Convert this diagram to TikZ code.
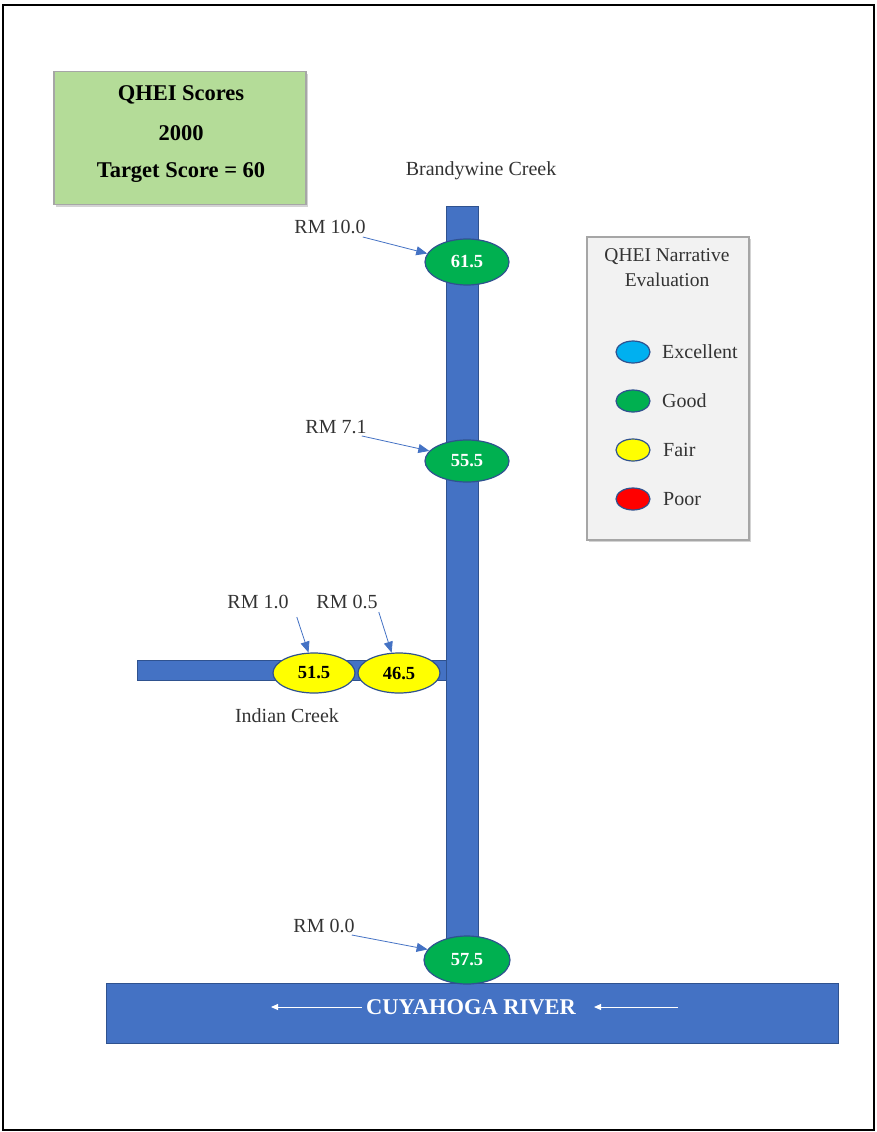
\documentclass[tikz,border=0pt]{standalone}
\usepackage{fontspec}
\setmainfont{Liberation Serif}
\usetikzlibrary{arrows.meta,shadows,shapes.geometric}
\definecolor{stream}{HTML}{4472C4}
\definecolor{edge}{HTML}{2F528F}
\definecolor{good}{HTML}{00B050}
\definecolor{excel}{HTML}{00B0F0}
\definecolor{fair}{HTML}{FFFF00}
\definecolor{poor}{HTML}{FF0000}
\definecolor{titlegreen}{HTML}{B4DC98}
\definecolor{legendgray}{HTML}{F2F2F2}
\tikzset{
  water/.style={fill=stream,draw=edge,line width=0.8pt},
  site/.style={ellipse,draw=edge,line width=1.2pt,minimum width=84pt,minimum height=46pt,inner sep=0pt,font=\fontsize{18.5}{20}\selectfont\bfseries},
  smallsite/.style={ellipse,draw=edge,line width=1.2pt,minimum width=82pt,minimum height=40pt,inner sep=0pt,font=\fontsize{18.5}{20}\selectfont\bfseries},
  key/.style={ellipse,draw=edge,line width=1.2pt,minimum width=34pt,minimum height=22pt,inner sep=0pt},
  lbl/.style={font=\fontsize{20}{22}\selectfont,text=black!80,inner sep=0pt},
  keytext/.style={font=\fontsize{20}{22}\selectfont,text=black!80,inner sep=0pt,anchor=west},
  titletext/.style={font=\fontsize{22.5}{24}\selectfont\bfseries},
  pointer/.style={draw=stream,line width=0.8pt,-{Triangle[length=11pt,width=9pt]}},
  flow/.style={draw=white,line width=1pt,-{Triangle[length=7pt,width=6pt]}}
}
\begin{document}
\begin{tikzpicture}[x=1pt,y=-1pt]
\useasboundingbox (0,0) rectangle (877,1132);
% outer frame
\draw[line width=1.5pt] (3,5) rectangle (874,1130);
% title box
\node[draw=gray!70,line width=1.2pt,fill=titlegreen,minimum width=252pt,minimum height=133pt,
  drop shadow={shadow xshift=2pt,shadow yshift=-2pt,opacity=0.35},inner sep=0pt] (title) at (180,138) {};
\node[titletext] (t1) at (181,95) {QHEI Scores};
\node[titletext] (t2) at (181,133) {2000};
\node[titletext] (t3) at (181,172) {Target Score = 60};
% legend box
\node[draw=gray!70,line width=1.2pt,fill=legendgray,minimum width=162pt,minimum height=303pt,
  drop shadow={shadow xshift=2pt,shadow yshift=-2pt,opacity=0.35},inner sep=0pt] (legend) at (668,388.5) {};
\node[lbl,align=center,font=\fontsize{19.5}{25}\selectfont] (lt) at (667,268) {QHEI Narrative\\Evaluation};
\node[key,fill=excel] (k1) at (633,352) {};
\node[key,fill=good] (k2) at (633,401) {};
\node[key,fill=fair] (k3) at (633,450) {};
\node[key,fill=poor] (k4) at (633,499) {};
\node[keytext] (l1) at (662,352) {Excellent};
\node[keytext] (l2) at (662,401) {Good};
\node[keytext] (l3) at (663,450) {Fair};
\node[keytext] (l4) at (663,499) {Poor};
% streams
\path[water] (446,206) rectangle (478,975);
\path[water] (137,660) rectangle (446,680);
\path[water] (106,983) rectangle (838,1043);
\node[font=\fontsize{22.5}{24}\selectfont\bfseries,text=white] (river) at (471,1007) {CUYAHOGA RIVER};
\coordinate (fa1) at (362,1007);
\coordinate (fa2) at (271,1007);
\coordinate (fb1) at (678,1007);
\coordinate (fb2) at (594,1007);
\draw[flow] (fa1) -- (fa2);
\draw[flow] (fb1) -- (fb2);
% creek labels
\node[lbl] (bc) at (481,171) {Brandywine Creek};
\node[lbl] (ic) at (287,716) {Indian Creek};
% sites
\node[site,fill=good,text=white] (s10) at (467,262) {61.5};
\node[site,fill=good,text=white,minimum height=42pt] (s71) at (467,461) {55.5};
\node[smallsite,fill=fair] (s10i) at (314,673) {51.5};
\node[smallsite,fill=fair] (s05i) at (399,673) {46.5};
\node[site,fill=good,text=white,minimum width=86pt,minimum height=48pt] (s00) at (467,960) {57.5};
% RM labels
\node[lbl] (r10) at (330,227) {RM 10.0};
\node[lbl] (r71) at (336,427) {RM 7.1};
\node[lbl] (r1i) at (258,602) {RM 1.0};
\node[lbl] (r05) at (347,602) {RM 0.5};
\node[lbl] (r00) at (324,926) {RM 0.0};
\draw[pointer] ([xshift=-3pt,yshift=-3pt]r10.south east) -- (s10.168);
\draw[pointer] ([xshift=-5pt,yshift=-2pt]r71.south east) -- (s71.165);
\draw[pointer] ([xshift=8pt,yshift=-8pt]r1i.south east) -- (s10i.105);
\draw[pointer] ([xshift=1pt,yshift=-3pt]r05.south east) -- (s05i.110);
\draw[pointer] ([xshift=-3pt,yshift=-2pt]r00.south east) -- (s00.165);
\end{tikzpicture}
\end{document}
